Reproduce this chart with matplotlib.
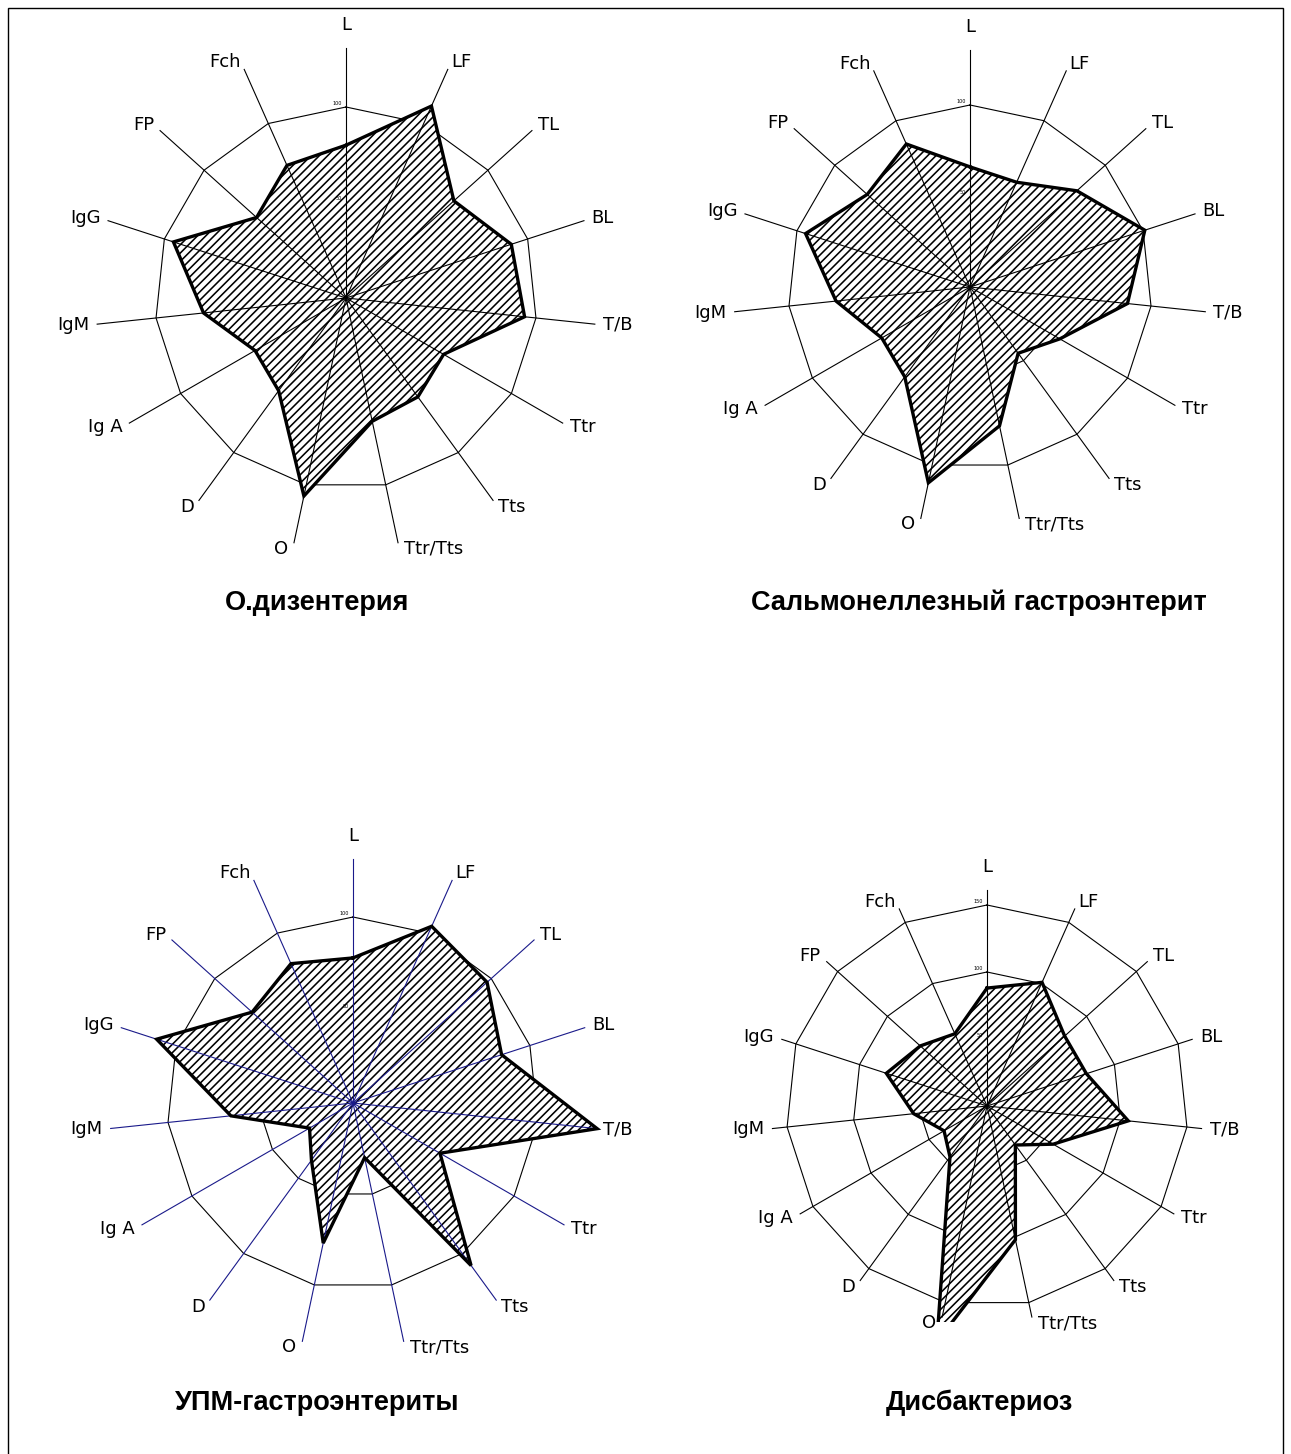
import numpy as np
import matplotlib
matplotlib.use('Agg')
import matplotlib.pyplot as plt
from matplotlib.patches import Rectangle

plt.rcParams['hatch.linewidth'] = 1.15

# ---------------- data ----------------
axis_labels = ['L', 'LF', 'TL', 'BL', 'T/B', 'Ttr', 'Tts', 'Ttr/Tts',
               'O', 'D', 'Ig A', 'IgM', 'IgG', 'FP', 'Fch']
titles = ['О.дизентерия', 'Сальмонеллезный гастроэнтерит',
          'УПМ-гастроэнтериты', 'Дисбактериоз']
dysentery = [80, 110, 76, 91, 94, 59, 64, 66, 106, 60, 55, 75, 95, 63, 76]
salmonella = [66, 63, 79, 101, 87, 57, 45, 78, 110, 61, 56, 74, 95, 76, 86]
opportunistic = [78, 104, 97, 84, 132, 54, 108, 30, 77, 38, 27, 66, 111, 73, 82]
dysbacteriosis = [88, 101, 78, 78, 106, 57, 36, 102, 180, 47, 37, 55, 79, 67, 59]
rings_std = [50, 100]
rings_ext = [50, 100, 150]

# ---------------- layout ----------------
W, H, DPI = 1291, 1454, 100
fig = plt.figure(figsize=(W / DPI, H / DPI), dpi=DPI)
fig.patch.set_facecolor('white')

panels = [
    dict(values=dysentery, cx=346, cy=298, scale=1.91, rmax=145, spoke=131,
         rings=rings_std, spoke_color='black', title_xy=(317, 603), clip=None),
    dict(values=salmonella, cx=970, cy=287, scale=1.82, rmax=145, spoke=130,
         rings=rings_std, spoke_color='black', title_xy=(979, 603), clip=None),
    dict(values=opportunistic, cx=353, cy=1103, scale=1.86, rmax=145, spoke=131,
         rings=rings_std, spoke_color='#1a1a8a', title_xy=(317, 1403), clip=None),
    dict(values=dysbacteriosis, cx=987, cy=1106, scale=1.34, rmax=190, spoke=161,
         rings=rings_ext, spoke_color='black', title_xy=(979, 1403), clip=1322),
]

n = len(axis_labels)
theta = np.arange(n) * 2 * np.pi / n
theta_closed = np.append(theta, theta[0])

for i, p in enumerate(panels):
    half = p['rmax'] * p['scale']
    left = (p['cx'] - half) / W
    bottom = (H - (p['cy'] + half)) / H
    ax = fig.add_axes([left, bottom, 2 * half / W, 2 * half / H], projection='polar')
    ax.set_theta_zero_location('N')
    ax.set_theta_direction(-1)
    ax.set_ylim(0, p['rmax'])
    ax.set_axis_off()

    # rings
    for rv in p['rings']:
        ax.plot(theta_closed, [rv] * (n + 1), color='black', lw=0.8, zorder=1)
        ax.annotate(str(rv), xy=(0, rv), xytext=(-3, 1), textcoords='offset points',
                    ha='right', va='bottom', fontsize=3.5, color='black')

    vals = list(p['values'])
    vals_closed = vals + [vals[0]]
    fill = ax.fill(theta_closed, vals_closed, facecolor='white', edgecolor='black',
                   hatch='////', lw=0, zorder=2)
    # spokes
    for t in theta:
        ax.plot([t, t], [0, p['spoke']], color=p['spoke_color'], lw=0.8, zorder=3)
    outline = ax.plot(theta_closed, vals_closed, color='black', lw=2.4, zorder=4,
                      solid_joinstyle='miter')

    if p['clip'] is not None:
        rect = Rectangle((0, (H - p['clip']) / H), 1, 1, transform=fig.transFigure,
                         facecolor='none', edgecolor='none')
        for a in fill + outline:
            a.set_clip_path(rect)

    # labels
    for t, lab in zip(theta, axis_labels):
        s, c = np.sin(t), np.cos(t)
        ha = 'left' if s > 0.1 else ('right' if s < -0.1 else 'center')
        if c > 0.95:
            va, off = 'bottom', (0, 14)
        elif c < -0.95:
            va, off = 'center', (6 * np.sign(s), -6)
        else:
            va, off = 'center', (8 * s, 8 * c)
        ax.annotate(lab, xy=(t, p['spoke']), xytext=off, textcoords='offset pixels',
                    ha=ha, va=va, fontsize=13, family='DejaVu Sans', color='black',
                    zorder=5)

    tx, ty = p['title_xy']
    fig.text(tx / W, 1 - ty / H, titles[i], ha='center', va='center',
             fontsize=19.5, fontweight='bold', family=['Liberation Sans', 'DejaVu Sans'])

# outer frame
frame = Rectangle((8 / W, -0.01), (1283 - 8) / W, 1 - 8 / H + 0.01,
                  transform=fig.transFigure, facecolor='none', edgecolor='black', lw=1.0)
fig.patches.append(frame)

fig.savefig('out.png', dpi=DPI, facecolor='white')
